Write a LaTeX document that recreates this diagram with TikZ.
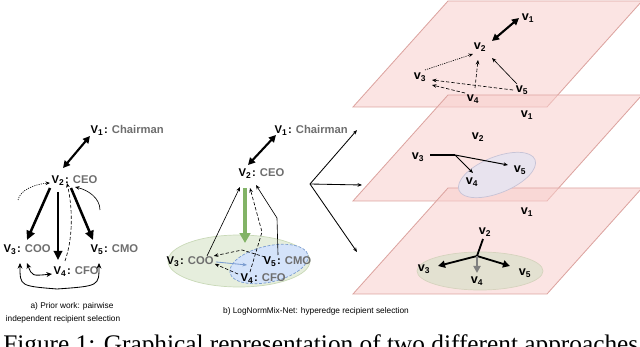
\documentclass[tikz,border=0pt]{standalone}
\usepackage{fontspec}
\setmainfont{Liberation Serif}
\setsansfont{Liberation Sans}
\usetikzlibrary{calc,arrows.meta}
\definecolor{roletxt}{HTML}{6E6E6E}
\definecolor{leaf}{HTML}{82B366}
\definecolor{pinkfill}{HTML}{F8CECC}
\definecolor{pinkedge}{HTML}{DCA4A0}
\definecolor{hypergreen}{HTML}{E6EEDD}
\definecolor{hyperedge}{HTML}{C9D9B8}
\definecolor{paleblue}{HTML}{D4E3FA}
\definecolor{blueline}{HTML}{7A9CD0}
\definecolor{lilac}{HTML}{E8E3EE}
\definecolor{lilacedge}{HTML}{C7C3D6}
\definecolor{khaki}{HTML}{E3E1D1}
\definecolor{khakiedge}{HTML}{D6D3BE}
\tikzset{
  vx/.style={font=\sffamily\bfseries\fontsize{8}{9}\selectfont,inner ysep=0.5pt,inner xsep=0pt},
  role/.style={font=\sffamily\bfseries\fontsize{8}{9}\selectfont,text=roletxt,inner sep=0pt,anchor=base west},
  pv/.style={font=\sffamily\bfseries\fontsize{9}{10}\selectfont,inner sep=0.5pt},
  heavy/.style={line width=1.8pt,-{Triangle[length=6.5pt,width=6pt]}},
  duo/.style={line width=1.5pt,{Triangle[length=5pt,width=5pt]}-{Triangle[length=5pt,width=5pt]}},
  fine/.style={line width=0.45pt,-{Stealth[length=3.2pt,width=2.6pt]}},
  dash2/.style={fine,dash pattern=on 2.4pt off 1.4pt},
  dots2/.style={fine,dash pattern=on 0.8pt off 0.8pt},
  plane/.style={fill=pinkfill,fill opacity=0.55,draw=pinkedge,line width=0.6pt},
  subcap/.style={font=\sffamily\fontsize{5.9}{7}\selectfont,inner sep=0pt},
}

\begin{document}
\begin{tikzpicture}[x=0.025cm,y=-0.025cm]
\useasboundingbox (0,0) rectangle (640,347);

% a) pairwise
\node[vx] (a1) at (97,131) {V\textsubscript{1}};
\node[role] (a1r) at (a1.base east) {\textcolor{black}{:} Chairman};
\node[vx] (a2) at (58,181) {V\textsubscript{2}};
\node[role] (a2r) at (a2.base east) {\textcolor{black}{:} CEO};
\node[vx] (a3) at (10,250) {V\textsubscript{3}};
\node[role] (a3r) at (a3.base east) {\textcolor{black}{:} COO};
\node[vx] (a4) at (60,272) {V\textsubscript{4}};
\node[role] (a4r) at (a4.base east) {\textcolor{black}{:} CFO};
\node[vx] (a5) at (97,250) {V\textsubscript{5}};
\node[role] (a5r) at (a5.base east) {\textcolor{black}{:} CMO};
\draw[duo] ($(a2)+(5,-13)$) -- ($(a1)+(-7,5)$);
\draw[heavy] ($(a2)+(-8,7)$) -- ($(a3)+(17,-10)$);
\draw[heavy] ($(a2)+(0,11)$) -- ($(a4)+(-2,-12)$);
\draw[heavy] ($(a2)+(13,7)$) -- ($(a5)+(-4,-10)$);
\draw[dash2] ($(a4)+(5,-11)$) .. controls (74,235) and (72,205) .. ($(a2)+(9,2)$);
\coordinate (a3up) at (18,200);
\coordinate (a5up) at (100,210);
\draw[dots2] (a3up) .. controls (20,190) and (35,184) .. ($(a2)+(-8,2)$);
\draw[fine] (a5up) .. controls (100,198) and (88,190) .. ($(a2)+(17,6)$);
\draw[line width=0.6pt,{Stealth[length=4pt,width=3.5pt]}-{Stealth[length=4pt,width=3.5pt]}]
  ($(a3)+(10,13)$) .. controls (20,286) .. (57,289) .. controls (99,286) .. ($(a5)+(2,13)$);
\draw[line width=0.6pt,{Stealth[length=4pt,width=3.5pt]}-{Stealth[length=4pt,width=3.5pt]}]
  ($(a3)+(17,13)$) .. controls (32,276) .. ($(a4)+(-8,2)$);
\node[subcap] (capa1) at (72,306) {a) Prior work: pairwise};
\node[subcap] (capa2) at (63,319) {independent recipient selection};

% b) hyperedge
\fill[hypergreen,draw=hyperedge,line width=0.5pt] (239,261) ellipse [x radius=71, y radius=26];
\fill[paleblue,draw=blueline,line width=0.5pt,dash pattern=on 2pt off 1.2pt,rotate around={13:(269,264)}]
  (269,264) ellipse [x radius=40, y radius=18];
\node[vx] (b1) at (281,131) {V\textsubscript{1}};
\node[role] (b1r) at (b1.base east) {\textcolor{black}{:} Chairman};
\node[vx] (b2) at (245,174) {V\textsubscript{2}};
\node[role] (b2r) at (b2.base east) {\textcolor{black}{:} CEO};
\node[vx] (b3) at (173,262) {V\textsubscript{3}};
\node[role] (b3r) at (b3.base east) {\textcolor{black}{:} COO};
\node[vx] (b4) at (247,279) {V\textsubscript{4}};
\node[role] (b4r) at (b4.base east) {\textcolor{black}{:} CFO};
\node[vx] (b5) at (270,262) {V\textsubscript{5}};
\node[role] (b5r) at (b5.base east) {\textcolor{black}{:} CMO};
\coordinate (hyper) at (245,243);
\draw[duo] ($(b2)+(3,-9)$) -- ($(b1)+(-5,4)$);
\draw[leaf,line width=2.3pt,-{Triangle[length=7pt,width=7.5pt]}] ($(b2)+(0,14)$) -- (hyper);
\draw[fine,blueline,line width=0.6pt] ($(b3r.east)+(2,1)$) -- ($(b4)+(0,-14)$);
\draw[dash2] ($(b5)+(-5,-5)$) -- (242,250) -- ($(b3r.east)+(0,-5)$);
\draw[dash2] ($(b4)+(-9,-5)$) -- ($(b3r.east)+(1,3)$);
\draw[fine] ($(b3)+(34,-6)$) -- ($(b2)+(-5,13)$);
\draw[dash2] ($(b4)+(3,-7)$) -- (262,232) -- ($(b2)+(5,14)$);
\draw[fine] ($(b5)+(8,-7)$) -- (277,218) -- ($(b2)+(11,11)$);
\node[subcap] (capb) at (316,311) {b) LogNormMix-Net: hyperedge recipient selection};

% fan towards the three layers
\coordinate (fan) at (310,184);
\coordinate (topin) at (357,130);
\coordinate (midin) at (362,185);
\coordinate (lowin) at (357,252);
\foreach \tgt in {topin,midin,lowin}
  \draw[fine,line width=0.6pt] (fan) -- (\tgt);

% layers
\foreach \dy in {0,94,187}
  \draw[plane] (353,107+\dy) -- (547,107+\dy) -- (642,1+\dy) -- (448,1+\dy) -- cycle;

% top layer: pairwise
\node[pv] (t1) at (528,18) {v\textsubscript{1}};
\node[pv] (t2) at (480,47) {v\textsubscript{2}};
\node[pv] (t3) at (420,77) {v\textsubscript{3}};
\node[pv] (t4) at (473,99) {v\textsubscript{4}};
\node[pv] (t5) at (522,90) {v\textsubscript{5}};
\draw[duo] ($(t2)+(12,-6)$) -- ($(t1)+(-9,0)$);
\draw[dots2] ($(t3)+(5,-7)$) -- ($(t2)+(-7,7)$);
\draw[dash2] ($(t4)+(2,-11)$) -- ($(t2)+(-2,13)$);
\draw[fine] ($(t5)+(-5,-6)$) -- ($(t2)+(12,11)$);
\draw[dash2] ($(t5)+(-9,0)$) -- ($(t3)+(12,3)$);
\draw[dash2] ($(t4)+(-8,-6)$) -- ($(t3)+(12,8)$);

% middle layer: hyperedge selection
\fill[lilac,draw=lilacedge,line width=0.5pt,rotate around={22:(497,175)}]
  (497,175) ellipse [x radius=41, y radius=18];
\node[pv] (m1) at (527,115) {v\textsubscript{1}};
\node[pv] (m2) at (478,137) {v\textsubscript{2}};
\node[pv] (m3) at (418,157) {v\textsubscript{3}};
\node[pv] (m4) at (472,182) {v\textsubscript{4}};
\node[pv] (m5) at (520,170) {v\textsubscript{5}};
\coordinate (mhub) at (455,155);
\draw[line width=1.3pt] ($(m3)+(12,-2)$) -- (mhub);
\draw[fine,line width=0.7pt] (mhub) -- ($(m5)+(-12,-5)$);
\draw[fine,line width=0.7pt] (mhub) -- ($(m4)+(1,-9)$);

% bottom layer: recipients
\fill[khaki,draw=khakiedge,line width=0.5pt] (480,271) ellipse [x radius=63, y radius=19];
\node[pv] (n1) at (527,212) {v\textsubscript{1}};
\node[pv] (n2) at (485,232) {v\textsubscript{2}};
\node[pv] (n3) at (424,269) {v\textsubscript{3}};
\node[pv] (n4) at (477,281) {v\textsubscript{4}};
\node[pv] (n5) at (525,273) {v\textsubscript{5}};
\coordinate (nhub) at (477,256);
\draw[line width=1.3pt] ($(n2)+(-2,7)$) -- (nhub);
\draw[line width=1.3pt,-{Triangle[length=5pt,width=5pt]}] (nhub) -- ($(n3)+(14,-3)$);
\draw[line width=1.3pt,-{Triangle[length=5pt,width=5pt]}] (nhub) -- ($(n5)+(-15,-7)$);
\draw[gray,line width=1.3pt,-{Triangle[length=5pt,width=5pt]}] (nhub) -- ($(n4)+(0,-8)$);

\node[anchor=base west,font=\fontsize{18}{20}\selectfont,inner sep=0pt] (figcap) at (3,353)
  {Figure 1: Graphical representation of two different approaches};
\end{tikzpicture}
\end{document}
